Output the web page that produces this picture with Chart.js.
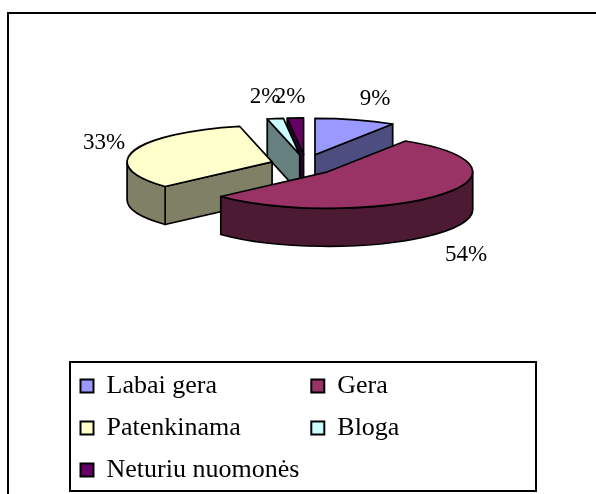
<!DOCTYPE html>
<html>
<head>
<meta charset="utf-8">
<style>html,body{margin:0;padding:0;background:#fff}canvas{display:block}</style>
<script src="https://cdn.jsdelivr.net/npm/chart.js@4"></script>
</head>
<body>
<canvas id="c" width="596" height="494"></canvas>
<script>
const categories = ['Labai gera', 'Gera', 'Patenkinama', 'Bloga', 'Neturiu nuomonės'];
const shares = [9, 54.2, 33.2, 1.8, 1.8];
const topColors = ['#9999FF', '#993366', '#FFFFCC', '#CCFFFF', '#660066'];
const wallColors = ['#4D4D80', '#4D1A33', '#808066', '#668080', '#330033'];
const labelCentres = [[375, 99], [466, 255], [104, 143], [265, 97], [290, 97]];
const explodeX = [34, 29, 35, 34, 34];   // explosion distance on screen, per slice

const FONT = '"Liberation Serif", "Times New Roman", serif';
const RX = 145, RY = 36.5, K = RY / RX, CX = 305.5, CY = 165, DEPTH = 38, LW = 1.7;
const EY = 10.6;
const ROW_GAP = 16;
let baseX = 0, baseY = 0;

function apex(el, i) {
  const m = (el.startAngle + el.endAngle) / 2;
  return { x: CX + Math.cos(m) * explodeX[i], y: CY + Math.sin(m) * EY };
}
function pt(a, ang) { return { x: a.x + RX * Math.cos(ang), y: a.y + RY * Math.sin(ang) }; }

const pie3d = {
  id: 'pie3d',
  afterLayout(chart) {
    const lg = chart.legend;
    lg.left = 80.5 - ROW_GAP; lg.top = 373 - ROW_GAP; lg.right = 560; lg.bottom = 520;
    lg.columnSizes[0].width -= 4;
  },
  afterDatasetsUpdate(chart) {
    // Pull each slice out of the pie along its own middle angle.
    const arcs = chart.getDatasetMeta(0).data;
    baseX = arcs[0].x; baseY = arcs[0].y;
    arcs.forEach((el, i) => {
      const a = apex(el, i);
      el.x = baseX + (a.x - CX);
      el.y = baseY + (a.y - CY) / K;
    });
  },
  beforeDraw(chart) {
    const c = chart.ctx;
    c.save();
    c.fillStyle = '#fff'; c.fillRect(0, 0, 596, 494);
    c.strokeStyle = '#000'; c.lineWidth = 2;
    c.beginPath(); c.moveTo(8, 494); c.lineTo(8, 13); c.moveTo(7, 13); c.lineTo(596, 13); c.stroke();
    c.strokeRect(70, 362, 466, 129);
    c.restore();
  },
  beforeDatasetsDraw(chart) {
    const c = chart.ctx, arcs = chart.getDatasetMeta(0).data;
    c.save();
    c.strokeStyle = '#000'; c.lineWidth = LW; c.lineJoin = 'round';
    [0, 4, 3, 2, 1].forEach(i => {
      const el = arcs[i], a = apex(el, i), s = el.startAngle, e = el.endAngle;
      c.fillStyle = wallColors[i];
      const face = ang => {
        const p = pt(a, ang);
        c.beginPath(); c.moveTo(a.x, a.y); c.lineTo(p.x, p.y); c.lineTo(p.x, p.y + DEPTH);
        c.lineTo(a.x, a.y + DEPTH); c.closePath(); c.fill(); c.stroke();
      };
      if (Math.cos(s) < 0) face(s);
      if (Math.cos(e) > 0) face(e);
      const s2 = Math.max(s, 0), e2 = Math.min(e, Math.PI);
      if (s2 < e2) {
        c.beginPath();
        c.ellipse(a.x, a.y, RX, RY, 0, s2, e2);
        c.ellipse(a.x, a.y + DEPTH, RX, RY, 0, e2, s2, true);
        c.closePath(); c.fill(); c.stroke();
      }
    });
    c.restore();
  },
  beforeDatasetDraw(chart) {
    const c = chart.ctx;
    c.save();
    c.translate(CX, CY); c.scale(1, K); c.translate(-baseX, -baseY);
  },
  afterDatasetDraw(chart) { chart.ctx.restore(); },
  afterDatasetsDraw(chart) {
    const c = chart.ctx, arcs = chart.getDatasetMeta(0).data;
    c.save();
    c.strokeStyle = '#000'; c.lineWidth = LW; c.lineJoin = 'round';
    arcs.forEach((el, i) => {
      const a = apex(el, i);
      c.beginPath(); c.moveTo(a.x, a.y);
      c.ellipse(a.x, a.y, RX, RY, 0, el.startAngle, el.endAngle);
      c.closePath(); c.stroke();
    });
    c.fillStyle = '#000'; c.font = '23px ' + FONT;
    c.textAlign = 'center'; c.textBaseline = 'middle';
    shares.forEach((v, i) => c.fillText(Math.round(v) + '%', labelCentres[i][0], labelCentres[i][1]));
    c.restore();
  }
};

new Chart(document.getElementById('c'), {
  type: 'pie',
  data: {
    labels: categories,
    datasets: [{
      data: shares,
      backgroundColor: topColors,
      borderWidth: 0,
      clip: 5000
    }]
  },
  options: {
    responsive: false,
    animation: false,
    radius: RX,
    layout: { padding: { left: 70, top: 330, bottom: 0, right: 0 } },
    plugins: {
      tooltip: { enabled: false },
      title: { display: false },
      legend: {
        display: true,
        position: 'left',
        align: 'start',
        labels: {
          boxWidth: 13,
          boxHeight: 13,
          padding: ROW_GAP,
          color: '#000',
          font: { family: FONT, size: 26 },
          generateLabels(chart) {
            return Chart.overrides.pie.plugins.legend.labels.generateLabels(chart)
              .map(it => Object.assign(it, { strokeStyle: '#000', lineWidth: 2 }));
          },
          sort: (a, b) => (a.index % 2) - (b.index % 2) || a.index - b.index
        }
      }
    }
  },
  plugins: [pie3d]
});
</script>
</body>
</html>
